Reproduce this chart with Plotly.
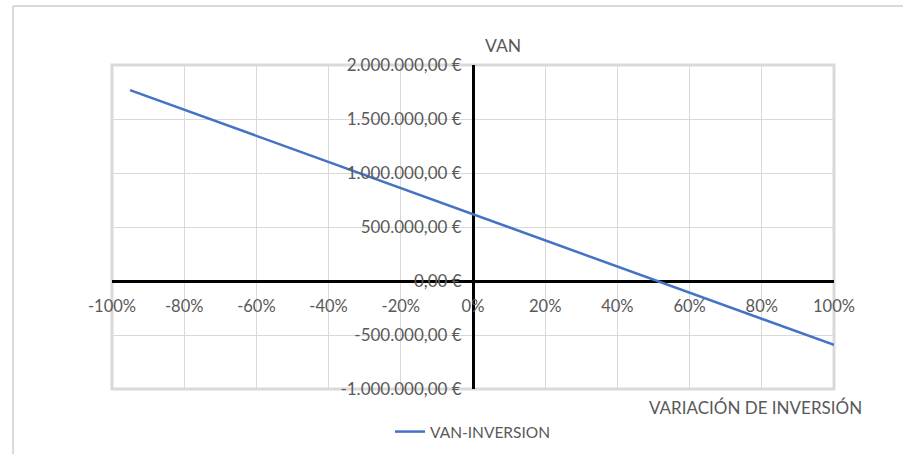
import plotly.graph_objects as go

# Variación de la inversión (fracción) y VAN resultante (€)
variacion = [-0.95, -0.8, -0.6, -0.4, -0.2, 0.0, 0.2, 0.4, 0.6, 0.8, 1.0]
van = [1767500, 1586000, 1344000, 1102000, 860000, 618000,
       376000, 134000, -108000, -350000, -592000]

x_ticks = [-1.0, -0.8, -0.6, -0.4, -0.2, 0.0, 0.2, 0.4, 0.6, 0.8, 1.0]
x_tick_labels = ["-100%", "-80%", "-60%", "-40%", "-20%", "0%",
                 "20%", "40%", "60%", "80%", "100%"]
y_ticks = [-1000000, -500000, 0, 500000, 1000000, 1500000, 2000000]
y_tick_labels = ["-1.000.000,00 €", "-500.000,00 €", "0,00 €", "500.000,00 €",
                 "1.000.000,00 €", "1.500.000,00 €", "2.000.000,00 €"]

FONT = "Lato"
TXT = "#595959"
GRID = "#d9d9d9"

fig = go.Figure()
fig.add_trace(go.Scatter(
    x=variacion, y=van, mode="lines", name="VAN-INVERSION",
    line=dict(color="#4472C4", width=2.5),
))

fig.update_layout(
    width=913, height=454,
    margin=dict(l=112, r=79, t=65, b=65, autoexpand=False),
    paper_bgcolor="white", plot_bgcolor="white",
    font=dict(family=FONT, size=16, color=TXT),
    showlegend=True,
    legend=dict(orientation="h", x=0.5, xanchor="center",
                yref="container", y=1 - 432 / 454, yanchor="middle",
                font=dict(size=15.5, color=TXT),
                bgcolor="rgba(0,0,0,0)"),
    xaxis=dict(
        range=[-1, 1], tickvals=x_ticks, ticktext=x_tick_labels,
        showgrid=True, gridcolor=GRID, gridwidth=1,
        zeroline=True, zerolinecolor="black", zerolinewidth=3,
        showline=False, anchor="free", position=1/3, automargin=False,
        ticks="outside", ticklen=10, tickcolor="rgba(0,0,0,0)",
        tickfont=dict(family=FONT, size=16.5, color=TXT),
    ),
    yaxis=dict(
        range=[-1000000, 2000000], tickvals=y_ticks, ticktext=y_tick_labels,
        showgrid=True, gridcolor=GRID, gridwidth=1,
        zeroline=True, zerolinecolor="black", zerolinewidth=3,
        showline=False, anchor="free", position=0.5, automargin=False,
        ticks="outside", ticklen=8, tickcolor="rgba(0,0,0,0)",
        tickfont=dict(family=FONT, size=17, color=TXT),
    ),
)

# Plot-area border and outer chart frame
fig.add_shape(type="rect", xref="paper", yref="paper", x0=0, y0=0, x1=1, y1=1,
              line=dict(color=GRID, width=3), layer="below")
fig.add_shape(type="line", xref="paper", yref="paper",
              x0=-0.137, y0=1.182, x1=1.0956, y1=1.182,
              line=dict(color=GRID, width=2))
fig.add_shape(type="line", xref="paper", yref="paper",
              x0=-0.137, y0=1.182, x1=-0.137, y1=-0.21,
              line=dict(color=GRID, width=2))

fig.add_annotation(text="VAN", xref="paper", yref="paper", x=0.5416, y=1.0617,
                   xanchor="center", yanchor="middle", showarrow=False,
                   font=dict(family=FONT, size=17.5, color=TXT))
fig.add_annotation(text="VARIACIÓN DE INVERSIÓN", xref="paper", yref="paper",
                   x=0.8906, y=-0.0586, xanchor="center", yanchor="middle",
                   showarrow=False, font=dict(family=FONT, size=17, color=TXT))

fig.write_html("out.html")
